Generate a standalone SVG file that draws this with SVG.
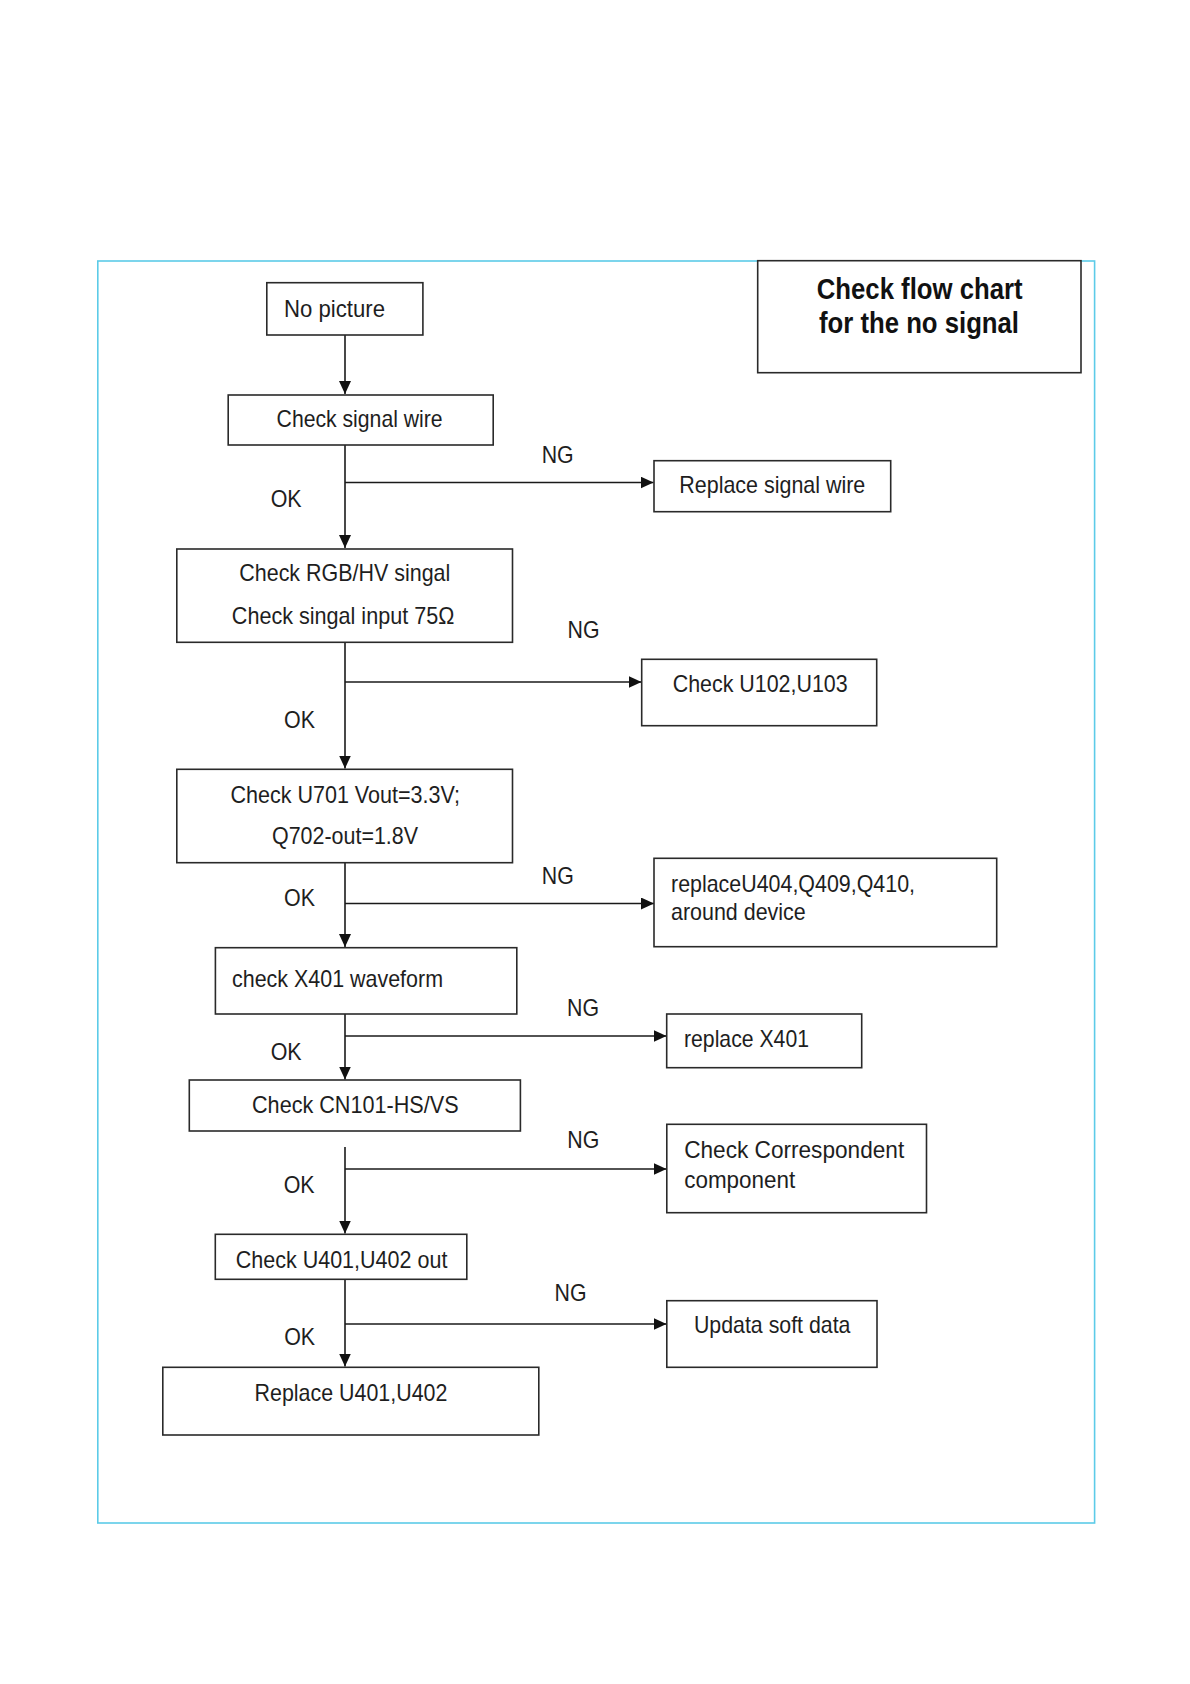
<svg xmlns="http://www.w3.org/2000/svg" width="1190" height="1684" viewBox="0 0 1190 1684">
<style>
.frame{fill:none;stroke:#5ccbe8;stroke-width:1.6}
.box{fill:#fff;stroke:#2a2a2a;stroke-width:1.6}
.t{font-family:"Liberation Sans",Arial,sans-serif;font-size:24px;fill:#1e1e1e}
.lbl{font-family:"Liberation Sans",Arial,sans-serif;font-size:24px;fill:#1e1e1e}
.title{font-family:"Liberation Sans",Arial,sans-serif;font-size:29px;font-weight:bold;fill:#111}
.c{fill:none;stroke:#1a1a1a;stroke-width:1.6}
</style>
<defs>
<marker id="ah" markerUnits="userSpaceOnUse" markerWidth="13" markerHeight="12" refX="13" refY="6" orient="auto">
<path d="M0,0 L13,6 L0,12 z" fill="#111"/>
</marker>
</defs>
<rect width="1190" height="1684" fill="#fff"/>
<rect class="frame" x="97.8" y="261" width="996.8" height="1262"/>

<g id="title">
<rect class="box" x="757.7" y="260.7" width="323.3" height="112" stroke-width="2"/>
<text class="title" x="816.7" y="299.3" textLength="206" lengthAdjust="spacingAndGlyphs">Check flow chart</text>
<text class="title" x="819" y="333.3" textLength="200" lengthAdjust="spacingAndGlyphs">for the no signal</text>
</g>

<g id="connectors">
<path class="c" d="M345 327 V394" marker-end="url(#ah)"/>
<path class="c" d="M345 438 V548" marker-end="url(#ah)"/>
<path class="c" d="M345 482.5 H653.5" marker-end="url(#ah)"/>
<path class="c" d="M345 642 V768.5" marker-end="url(#ah)"/>
<path class="c" d="M345 682 H641.5" marker-end="url(#ah)"/>
<path class="c" d="M345 858 V947" marker-end="url(#ah)"/>
<path class="c" d="M345 903.5 H654" marker-end="url(#ah)"/>
<path class="c" d="M345 1014 V1079.5" marker-end="url(#ah)"/>
<path class="c" d="M345 1036 H666.5" marker-end="url(#ah)"/>
<path class="c" d="M345 1147 V1233.5" marker-end="url(#ah)"/>
<path class="c" d="M345 1169 H666.5" marker-end="url(#ah)"/>
<path class="c" d="M345 1279 V1366.5" marker-end="url(#ah)"/>
<path class="c" d="M345 1324 H666.5" marker-end="url(#ah)"/>
<text class="lbl" x="541.7" y="463.3" textLength="32" lengthAdjust="spacingAndGlyphs">NG</text>
<text class="lbl" x="270.7" y="507.3" textLength="31" lengthAdjust="spacingAndGlyphs">OK</text>
<text class="lbl" x="567.5" y="638.3" textLength="32" lengthAdjust="spacingAndGlyphs">NG</text>
<text class="lbl" x="284" y="728.3" textLength="31" lengthAdjust="spacingAndGlyphs">OK</text>
<text class="lbl" x="541.8" y="884" textLength="32" lengthAdjust="spacingAndGlyphs">NG</text>
<text class="lbl" x="284" y="906" textLength="31" lengthAdjust="spacingAndGlyphs">OK</text>
<text class="lbl" x="567" y="1015.7" textLength="32" lengthAdjust="spacingAndGlyphs">NG</text>
<text class="lbl" x="270.7" y="1060" textLength="31" lengthAdjust="spacingAndGlyphs">OK</text>
<text class="lbl" x="567.3" y="1148.3" textLength="32" lengthAdjust="spacingAndGlyphs">NG</text>
<text class="lbl" x="283.7" y="1192.7" textLength="31" lengthAdjust="spacingAndGlyphs">OK</text>
<text class="lbl" x="554.6" y="1300.7" textLength="32" lengthAdjust="spacingAndGlyphs">NG</text>
<text class="lbl" x="284.2" y="1345" textLength="31" lengthAdjust="spacingAndGlyphs">OK</text>
</g>

<g id="n-no-picture">
<rect class="box" x="266.8" y="282.7" width="156.1" height="52.3"/>
<text class="t" x="284" y="316.7" textLength="101" lengthAdjust="spacingAndGlyphs">No picture</text>
</g>
<g id="n-check-signal-wire">
<rect class="box" x="228.2" y="395" width="265" height="50"/>
<text class="t" x="276.6" y="426.7" textLength="166" lengthAdjust="spacingAndGlyphs">Check signal wire</text>
</g>
<g id="n-replace-signal-wire">
<rect class="box" x="654" y="460.7" width="236.7" height="51"/>
<text class="t" x="679.3" y="493.3" textLength="186" lengthAdjust="spacingAndGlyphs">Replace signal wire</text>
</g>
<g id="n-check-rgb">
<rect class="box" x="176.8" y="549" width="335.7" height="93.3"/>
<text class="t" x="239.3" y="581" textLength="211" lengthAdjust="spacingAndGlyphs">Check RGB/HV singal</text>
<text class="t" x="231.8" y="624.3" textLength="222.5" lengthAdjust="spacingAndGlyphs">Check singal input 75Ω</text>
</g>
<g id="n-check-u102">
<rect class="box" x="641.7" y="659.3" width="235" height="66.4"/>
<text class="t" x="672.7" y="691.7" textLength="175" lengthAdjust="spacingAndGlyphs">Check U102,U103</text>
</g>
<g id="n-check-u701">
<rect class="box" x="176.8" y="769.3" width="335.7" height="93.4"/>
<text class="t" x="230.4" y="803.3" textLength="229.6" lengthAdjust="spacingAndGlyphs">Check U701 Vout=3.3V;</text>
<text class="t" x="272" y="844" textLength="146" lengthAdjust="spacingAndGlyphs">Q702-out=1.8V</text>
</g>
<g id="n-replace-u404">
<rect class="box" x="654" y="858.3" width="342.7" height="88.4"/>
<text class="t" x="671" y="891.7" textLength="244" lengthAdjust="spacingAndGlyphs">replaceU404,Q409,Q410,</text>
<text class="t" x="671" y="920" textLength="134.7" lengthAdjust="spacingAndGlyphs">around device</text>
</g>
<g id="n-check-x401">
<rect class="box" x="215.4" y="947.7" width="301.4" height="66.3"/>
<text class="t" x="232" y="986.7" textLength="211" lengthAdjust="spacingAndGlyphs">check X401 waveform</text>
</g>
<g id="n-replace-x401">
<rect class="box" x="666.7" y="1014" width="195" height="53.7"/>
<text class="t" x="684" y="1046.7" textLength="125" lengthAdjust="spacingAndGlyphs">replace X401</text>
</g>
<g id="n-check-cn101">
<rect class="box" x="189.3" y="1080" width="331.1" height="51"/>
<text class="t" x="252" y="1112.7" textLength="206.6" lengthAdjust="spacingAndGlyphs">Check CN101-HS/VS</text>
</g>
<g id="n-check-correspondent">
<rect class="box" x="666.8" y="1124.3" width="259.7" height="88.4"/>
<text class="t" x="684.2" y="1158.3" textLength="220" lengthAdjust="spacingAndGlyphs">Check Correspondent</text>
<text class="t" x="684.2" y="1188.3" textLength="111" lengthAdjust="spacingAndGlyphs">component</text>
</g>
<g id="n-check-u401-out">
<rect class="box" x="215.3" y="1234.3" width="251.5" height="45"/>
<text class="t" x="235.7" y="1268.3" textLength="211.7" lengthAdjust="spacingAndGlyphs">Check U401,U402 out</text>
</g>
<g id="n-updata">
<rect class="box" x="666.8" y="1300.7" width="210.2" height="66.6"/>
<text class="t" x="693.9" y="1333.3" textLength="156.6" lengthAdjust="spacingAndGlyphs">Updata soft data</text>
</g>
<g id="n-replace-u401">
<rect class="box" x="162.8" y="1367.3" width="376" height="67.7"/>
<text class="t" x="254.6" y="1400.7" textLength="192.8" lengthAdjust="spacingAndGlyphs">Replace U401,U402</text>
</g>
</svg>
